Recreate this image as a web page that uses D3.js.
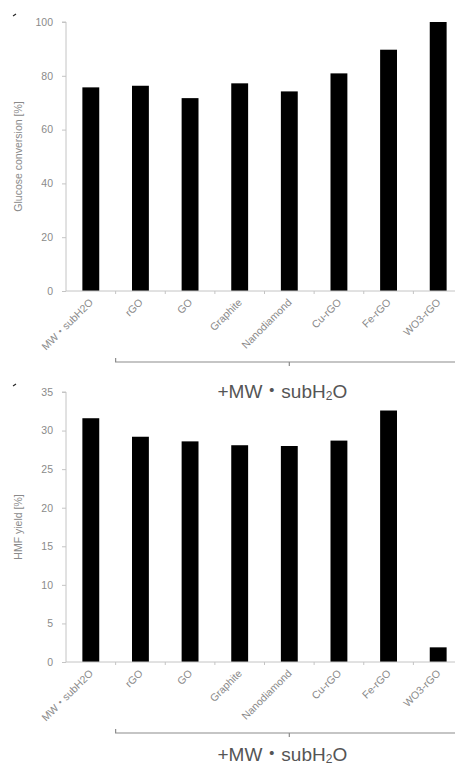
<!DOCTYPE html>
<html lang="en">
<head>
	<meta charset="UTF-8">
	<title>Glucose conversion / HMF yield</title>
	<script type="text/javascript" src="https://cdn.jsdelivr.net/npm/d3@7/dist/d3.min.js"></script>
	<style>
		body { margin: 0; background: #fff; }
		text { font-family: "Liberation Sans", Arial, "Noto Sans CJK JP", sans-serif; }
	</style>
</head>
<body>
	<div class="chart"></div>
	<script type="text/javascript">
		// data
		var categories = ['MW\u30FBsubH2O', 'rGO', 'GO', 'Graphite', 'Nanodiamond', 'Cu-rGO', 'Fe-rGO', 'WO3-rGO'];
		var glucoseConversion = [75.7, 76.3, 71.7, 77.2, 74.2, 80.9, 89.7, 100];
		var hmfYield = [31.6, 29.2, 28.6, 28.1, 28.0, 28.7, 32.6, 1.9];
		var glucoseTicks = [0, 20, 40, 60, 80, 100];
		var hmfTicks = [0, 5, 10, 15, 20, 25, 30, 35];

		var W = 455, H = 767;
		var svg = d3.select('.chart').append('svg')
			.attr('width', W).attr('height', H);

		var x = d3.scaleBand().domain(categories)
			.range([66, 463]).paddingInner(0.66).paddingOuter(0.33);

		function drawPanel(values, ticks, yTop, yBottom, title, textGap) {
			var y = d3.scaleLinear().domain([0, d3.max(ticks)]).range([yBottom, yTop]);
			var g = svg.append('g');

			// bars
			g.selectAll('rect').data(values).enter().append('rect')
				.attr('x', function(d, i) { return x(categories[i]); })
				.attr('y', function(d) { return y(d); })
				.attr('width', x.bandwidth())
				.attr('height', function(d) { return y(0) - y(d); })
				.attr('fill', '#000');

			// y axis
			var yAxis = d3.axisLeft(y).tickValues(ticks).tickSize(4).tickPadding(9);
			var ya = g.append('g').attr('transform', 'translate(66,0)').call(yAxis);
			ya.select('.domain').attr('stroke', '#c4c4c4').attr('d', 'M-4,' + y(d3.max(ticks)) + 'H0V' + y(0));
			ya.selectAll('.tick line').attr('stroke', '#c4c4c4');
			ya.selectAll('.tick text').attr('fill', '#8a8a8a').attr('font-size', 10.5);

			// x axis: ticks on category boundaries
			var step = x.step();
			var bounds = d3.range(categories.length + 1).map(function(i) { return 66 + i * step; });
			g.append('line')
				.attr('x1', 66).attr('x2', 463)
				.attr('y1', y(0)).attr('y2', y(0))
				.attr('stroke', '#c4c4c4');
			g.selectAll('.xtick').data(bounds.slice(1)).enter().append('line')
				.attr('class', 'xtick')
				.attr('x1', function(d) { return d; }).attr('x2', function(d) { return d; })
				.attr('y1', y(0)).attr('y2', y(0) + 3)
				.attr('stroke', '#c4c4c4');

			// rotated category labels
			g.selectAll('.xlab').data(categories).enter().append('text')
				.attr('class', 'xlab')
				.attr('transform', function(d) {
					return 'translate(' + (x(d) + x.bandwidth() / 2 + 3) + ',' + (y(0) + 12) + ') rotate(-45)';
				})
				.attr('text-anchor', 'end')
				.attr('fill', '#8a8a8a')
				.attr('font-size', 10.5)
				.text(function(d) { return d; });

			// y title
			g.append('text')
				.attr('transform', 'translate(22,' + ((yTop + yBottom) / 2) + ') rotate(-90)')
				.attr('text-anchor', 'middle')
				.attr('fill', '#8a8a8a')
				.attr('font-size', 10.5)
				.text(title);

			// bracket under the treated samples
			var bx0 = bounds[1], bx1 = bounds[categories.length];
			var by = y(0) + 71;
			g.append('path')
				.attr('d', 'M' + bx0 + ',' + (by - 4) + 'V' + by + 'H' + bx1 +
					'M' + ((bx0 + bx1) / 2) + ',' + by + 'v4')
				.attr('fill', 'none')
				.attr('stroke', '#8c8c8c')
				.attr('stroke-width', 1.2);

			var t = g.append('text')
				.attr('x', (bx0 + bx1) / 2 - 7)
				.attr('y', by + textGap)
				.attr('text-anchor', 'middle')
				.attr('fill', '#555')
				.attr('font-size', 19);
			t.append('tspan').text('+MW\u30FBsubH');
			t.append('tspan').attr('font-size', 12).attr('dy', 2).text('2');
			t.append('tspan').attr('dy', -2).text('O');

			// small corner mark
			g.append('path')
				.attr('d', 'M13,' + (yTop - 6) + 'l3,-2')
				.attr('stroke', '#222').attr('stroke-width', 1.2);
		}

		drawPanel(glucoseConversion, glucoseTicks, 22, 291, 'Glucose conversion [%]', 36);
		drawPanel(hmfYield, hmfTicks, 392, 662, 'HMF yield [%]', 28);
	</script>
</body>
</html>
